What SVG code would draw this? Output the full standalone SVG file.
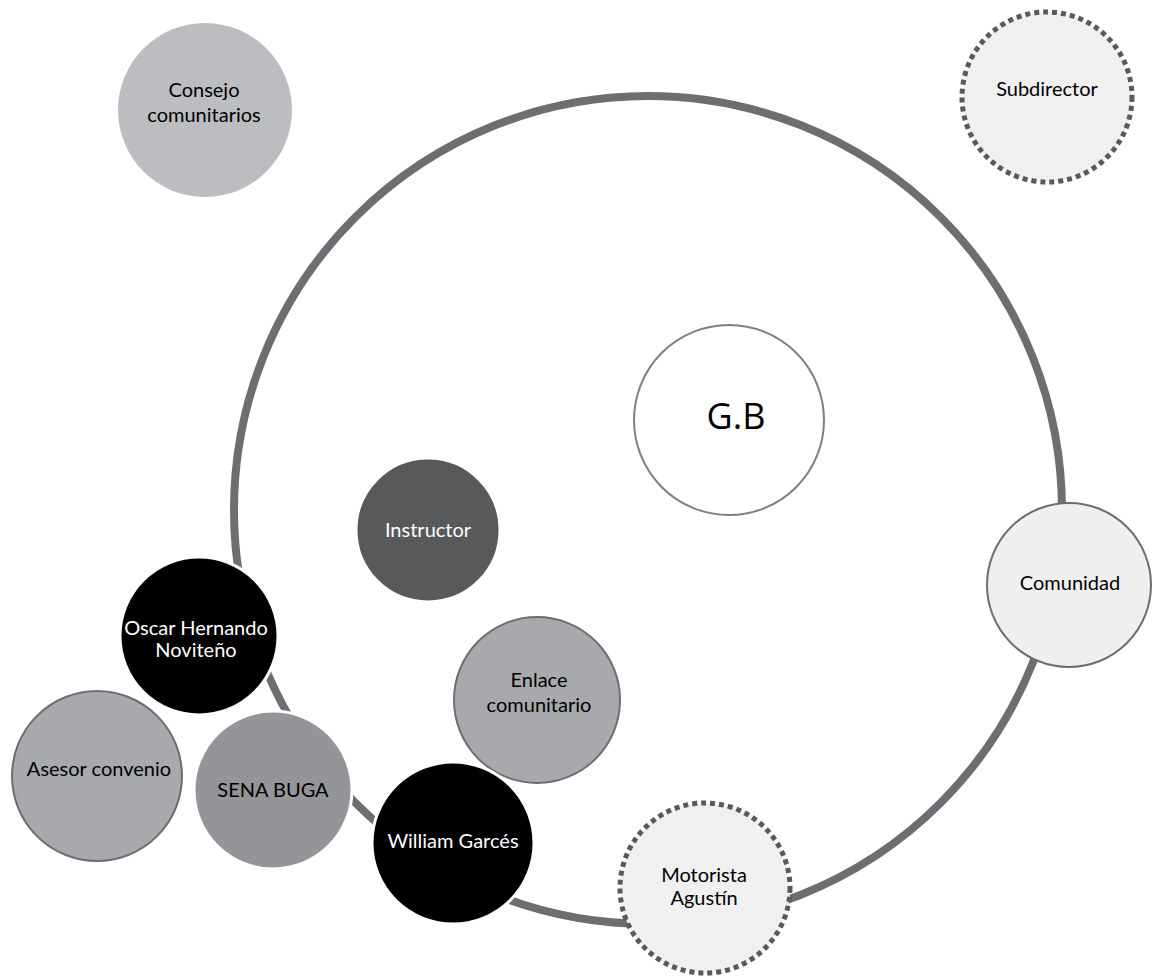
<svg xmlns="http://www.w3.org/2000/svg" width="1153" height="977" viewBox="0 0 1153 977">
<style>
text{font-family:Lato,"Open Sans","Liberation Sans",sans-serif;font-size:20px;text-anchor:middle;fill:#000}
.w{fill:#fff}
.dot{fill:#f0f0f0;stroke:#58595b;stroke-width:5;stroke-dasharray:5 4}
.gs{stroke:#6d6e71;stroke-width:2}
.ws{stroke:#fff;stroke-width:3}
.ring{fill:none;stroke:#6d6e71;stroke-width:8}
</style>
<rect width="1153" height="977" fill="#fff"/>
<g id="connectors">
<circle class="ring" cx="648" cy="510" r="414"/>
</g>
<g id="consejo"><circle cx="205" cy="110" r="87" fill="#bcbdc0"/><text x="204" y="97">Consejo</text><text x="204" y="122">comunitarios</text></g>
<g id="subdirector"><circle class="dot" cx="1047" cy="97" r="85"/><text x="1047" y="96">Subdirector</text></g>
<g id="gb"><circle cx="729" cy="420" r="95" fill="#fff" stroke="#7f7f7f" stroke-width="2"/><text x="736" y="429" style="font-family:'Open Sans',sans-serif;font-size:36px">G.B</text></g>
<g id="instructor"><circle class="ws" cx="428" cy="530" r="72" fill="#58595b"/><text class="w" x="428" y="537">Instructor</text></g>
<g id="comunidad"><circle class="gs" cx="1069" cy="585" r="82" fill="#efefef"/><text x="1070" y="590">Comunidad</text></g>
<g id="oscar"><circle class="ws" cx="199" cy="636" r="79" fill="#000"/><text class="w" x="196" y="635">Oscar Hernando</text><text class="w" x="196" y="657">Noviteño</text></g>
<g id="asesor"><circle class="gs" cx="97" cy="776" r="85" fill="#a7a9ac"/><text x="99" y="776">Asesor convenio</text></g>
<g id="sena"><circle class="ws" cx="273" cy="790" r="79" fill="#939598"/><text x="273" y="797">SENA BUGA</text></g>
<g id="enlace"><circle class="gs" cx="537" cy="700" r="83" fill="#a7a9ac"/><text x="539" y="687">Enlace</text><text x="539" y="712">comunitario</text></g>
<g id="william"><circle class="ws" cx="453" cy="843" r="81" fill="#000"/><text class="w" x="453" y="848">William Garcés</text></g>
<g id="motorista"><circle class="dot" cx="705" cy="888" r="85"/><text x="704" y="882">Motorista</text><text x="704" y="905">Agustín</text></g>
</svg>
